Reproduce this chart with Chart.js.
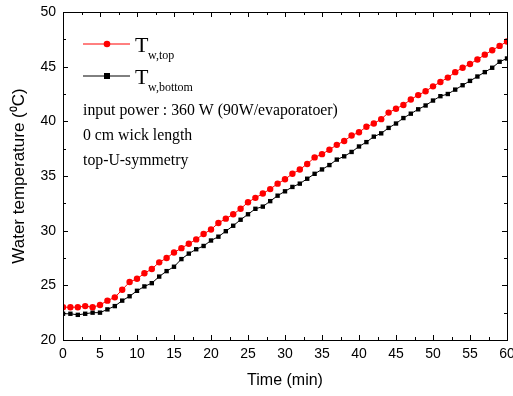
<!DOCTYPE html>
<html>
<head>
<meta charset="utf-8">
<script src="https://cdn.jsdelivr.net/npm/chart.js@4.4.1/dist/chart.umd.min.js"></script>
<style>
  html, body { margin: 0; padding: 0; background: #fff; }
  #wrap { width: 513px; height: 396px; }
</style>
</head>
<body>
<div id="wrap"><canvas id="c" width="513" height="396"></canvas></div>
<script>
// time in minutes
let timeMin = [];
for (let t = 0; t <= 60; t++) timeMin.push(t);

// T_w,top (red)
const tTop = [23.0, 23.0, 23.0, 23.1, 23.0, 23.2, 23.6, 23.9, 24.6, 25.3,
              25.6, 26.1, 26.5, 27.1, 27.5, 28.0, 28.4, 28.8, 29.2, 29.7,
              30.1, 30.7, 31.1, 31.5, 32.0, 32.6, 33.0, 33.4, 33.8, 34.3,
              34.7, 35.2, 35.6, 36.1, 36.7, 37.0, 37.4, 37.85, 38.2, 38.7,
              39.0, 39.5, 39.8, 40.2, 40.8, 41.15, 41.5, 42.0, 42.4, 42.75,
              43.2, 43.6, 44.0, 44.5, 44.9, 45.25, 45.65, 46.1, 46.5, 46.9, 47.3];

// T_w,bottom (black)
const tBottom = [22.4, 22.4, 22.3, 22.4, 22.5, 22.5, 22.8, 23.1, 23.6, 24.0,
                 24.5, 24.9, 25.2, 25.8, 26.3, 26.7, 27.4, 27.9, 28.3, 28.6,
                 29.1, 29.45, 29.95, 30.45, 31.0, 31.5, 32.0, 32.2, 32.7, 33.2,
                 33.6, 34.0, 34.3, 34.75, 35.2, 35.6, 36.0, 36.5, 36.8, 37.2,
                 37.7, 38.1, 38.6, 38.9, 39.4, 39.8, 40.3, 40.7, 41.1, 41.45,
                 41.9, 42.3, 42.5, 42.9, 43.3, 43.7, 44.1, 44.5, 44.9, 45.45, 45.75];

const xTicks = [0, 5, 10, 15, 20, 25, 30, 35, 40, 45, 50, 55, 60];
const yTicks = [20, 25, 30, 35, 40, 45, 50];

const notes = ["input power : 360 W (90W/evaporatoer)", "0 cm wick length", "top-U-symmetry"];

function toXY(ys) {
    let out = [];
    for (let i = 0; i < ys.length; i++) out.push({x: timeMin[i], y: ys[i]});
    return out;
}

// box round the plot with inward ticks on all four sides
const frame = {
    id: "frame",
    afterDraw(chart) {
        const ctx = chart.ctx;
        const a = chart.chartArea;
        const xs = chart.scales.x, ys = chart.scales.y;
        ctx.save();
        ctx.strokeStyle = "#000";
        ctx.lineWidth = 1;
        ctx.strokeRect(a.left + 0.5, a.top + 0.5, a.right - a.left, a.bottom - a.top);
        ctx.beginPath();
        for (let v = 0; v <= 60; v += 2.5) {
            const px = Math.round(xs.getPixelForValue(v)) + 0.5;
            const len = (v % 5 === 0) ? 5 : 3;
            ctx.moveTo(px, a.bottom); ctx.lineTo(px, a.bottom - len);
            ctx.moveTo(px, a.top); ctx.lineTo(px, a.top + len);
        }
        for (let v = 20; v <= 50; v += 2.5) {
            const py = Math.round(ys.getPixelForValue(v)) + 0.5;
            const len = (v % 5 === 0) ? 5 : 3;
            ctx.moveTo(a.left, py); ctx.lineTo(a.left + len, py);
            ctx.moveTo(a.right, py); ctx.lineTo(a.right - len, py);
        }
        ctx.stroke();

        // legend
        const entries = [
            {color: "#ff0000", style: "circle", sub: "w,top", y: 44},
            {color: "#000000", style: "rect", sub: "w,bottom", y: 76}
        ];
        entries.forEach(e => {
            ctx.strokeStyle = e.color;
            ctx.fillStyle = e.color;
            ctx.beginPath();
            ctx.moveTo(83, e.y); ctx.lineTo(130, e.y);
            ctx.stroke();
            if (e.style === "circle") {
                ctx.beginPath(); ctx.arc(107, e.y, 3.3, 0, Math.PI * 2); ctx.fill();
            } else {
                ctx.fillRect(104, e.y - 3, 6, 6);
            }
            ctx.fillStyle = "#000";
            ctx.textBaseline = "alphabetic";
            ctx.font = "22px 'Liberation Serif'";
            ctx.fillText("T", 135, e.y + 8);
            ctx.font = "12px 'Liberation Serif'";
            ctx.fillText(e.sub, 148, e.y + 15);
        });

        ctx.font = "15.8px 'Liberation Serif'";
        ctx.textBaseline = "middle";
        notes.forEach((n, i) => ctx.fillText(n, 83, 111 + i * 25));
        ctx.restore();
    }
};

new Chart(document.getElementById("c"), {
    type: "line",
    data: {
        datasets: [
            {
                label: "T w,top",
                data: toXY(tTop),
                borderColor: "#ff0000",
                backgroundColor: "#ff0000",
                borderWidth: 1,
                pointStyle: "circle",
                pointRadius: 3.2,
                pointBorderWidth: 0,
                tension: 0
            },
            {
                label: "T w,bottom",
                data: toXY(tBottom),
                borderColor: "#000000",
                backgroundColor: "#000000",
                borderWidth: 1,
                pointStyle: "rect",
                pointRadius: 3.1,
                pointBorderWidth: 0,
                tension: 0
            }
        ]
    },
    options: {
        responsive: false,
        animation: false,
        layout: {padding: {top: 12, right: 6, left: 0, bottom: 0}},
        plugins: {legend: {display: false}, tooltip: {enabled: false}},
        scales: {
            x: {
                type: "linear",
                min: 0, max: 60,
                afterBuildTicks: s => { s.ticks = xTicks.map(v => ({value: v})); },
                afterFit: s => { s.height = 56; s.paddingLeft = 0; s.paddingRight = 0; },
                grid: {display: false, drawTicks: false},
                border: {display: false},
                ticks: {color: "#000", padding: 6, font: {family: "'Liberation Sans'", size: 14}, maxRotation: 0},
                title: {display: true, text: "Time (min)", color: "#000",
                        font: {family: "'Liberation Sans'", size: 16}, padding: {top: 0, bottom: 6}}
            },
            y: {
                min: 20, max: 50,
                afterBuildTicks: s => { s.ticks = yTicks.map(v => ({value: v})); },
                afterFit: s => { s.width = 63; s.paddingTop = 0; s.paddingBottom = 0; },
                grid: {display: false, drawTicks: false},
                border: {display: false},
                ticks: {color: "#000", padding: 7, font: {family: "'Liberation Sans'", size: 14}},
                title: {display: true, text: "Water temperature (\u2070C)", color: "#000",
                        font: {family: "'Liberation Sans'", size: 17}, padding: {top: 9, bottom: 0}}
            }
        }
    },
    plugins: [frame]
});
</script>
</body>
</html>
